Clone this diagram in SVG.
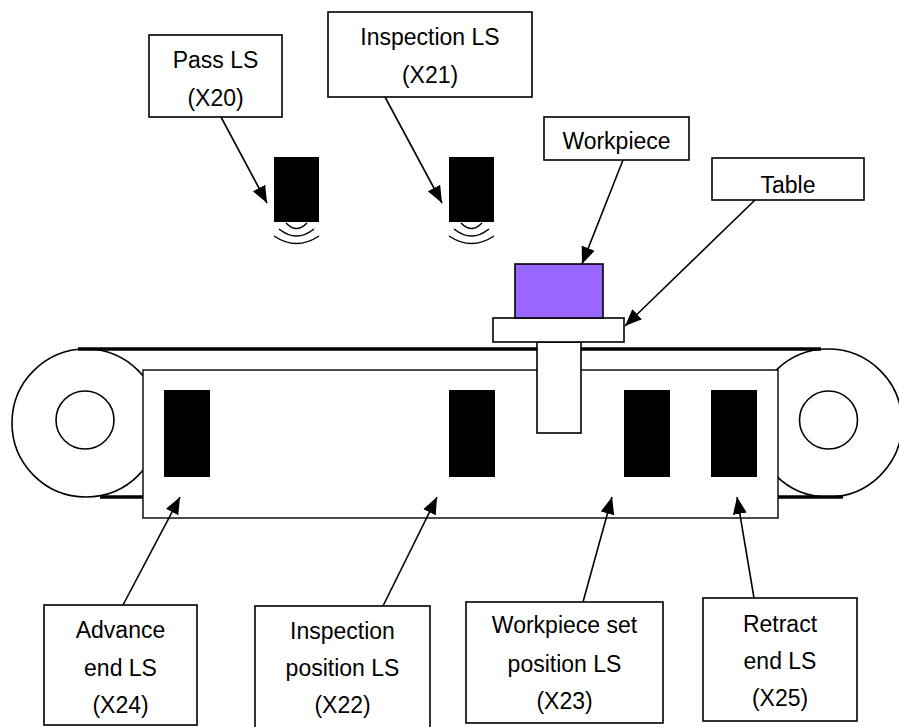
<svg xmlns="http://www.w3.org/2000/svg" width="899" height="727" viewBox="0 0 899 727">
  <style>
    .box { fill: #fff; stroke: #000; stroke-width: 1.6; }
    .lbl { font-family: "Liberation Sans", Arial, sans-serif; font-size: 23px; fill: #000; text-anchor: middle; }
    .blk { fill: #000; }
    .wave { fill: none; stroke: #000; stroke-width: 1.5; }
    .wheel { fill: #fff; stroke: #000; stroke-width: 1.6; }
    .belt { stroke: #000; stroke-width: 3.5; }
    .link { stroke: #000; stroke-width: 1.6; fill: none; marker-end: url(#head); }
  </style>
  <defs>
    <marker id="head" markerUnits="userSpaceOnUse" markerWidth="18" markerHeight="14" refX="17" refY="7" orient="auto">
      <path d="M0,0 L17,7 L0,14 z" fill="#000"/>
    </marker>
  </defs>

  <rect width="899" height="727" fill="#fff"/>

  <!-- conveyor: wheels, belt, body -->
  <g id="conveyor">
    <circle class="wheel" cx="86" cy="423" r="74"/>
    <circle class="wheel" cx="85" cy="420" r="29"/>
    <circle class="wheel" cx="828" cy="423" r="74"/>
    <circle class="wheel" cx="828.5" cy="420" r="29"/>
    <line class="belt" x1="78" y1="349" x2="821" y2="349"/>
    <line class="belt" x1="100" y1="497" x2="143" y2="497"/>
    <line class="belt" x1="778" y1="497" x2="843" y2="497"/>
    <rect x="143" y="370" width="635" height="148" fill="#fff" stroke="#000" stroke-width="1.4"/>
  </g>

  <!-- position switches on the conveyor body -->
  <g id="ls-x24"><rect class="blk" x="164" y="390" width="46" height="87"/></g>
  <g id="ls-x22"><rect class="blk" x="449" y="390" width="46" height="87"/></g>
  <g id="ls-x23"><rect class="blk" x="624" y="390" width="46" height="87"/></g>
  <g id="ls-x25"><rect class="blk" x="711" y="390" width="46" height="87"/></g>

  <!-- table with workpiece -->
  <g id="table">
    <rect class="box" x="537" y="342" width="44" height="91"/>
    <rect class="box" x="493" y="318" width="131" height="24"/>
  </g>
  <g id="workpiece">
    <rect x="515" y="264" width="88" height="54" fill="#9966ff" stroke="#000" stroke-width="1.6"/>
  </g>

  <!-- overhead sensors -->
  <g id="sensor-x20">
    <rect class="blk" x="274" y="157" width="45" height="65"/>
    <path class="wave" d="M286,223 Q296.5,234 307,223"/>
    <path class="wave" d="M279,229 Q296.5,243 314,229"/>
    <path class="wave" d="M274,236 Q296.5,251 319,236"/>
  </g>
  <g id="sensor-x21">
    <rect class="blk" x="449" y="157" width="45" height="65"/>
    <path class="wave" d="M461,223 Q471.5,234 482,223"/>
    <path class="wave" d="M454,229 Q471.5,243 489,229"/>
    <path class="wave" d="M449,236 Q471.5,251 494,236"/>
  </g>

  <!-- callout boxes -->
  <g id="label-pass">
    <rect class="box" x="149" y="35" width="133" height="82"/>
    <text class="lbl" x="215.5" y="68">Pass LS</text>
    <text class="lbl" x="215.5" y="106">(X20)</text>
  </g>
  <g id="label-inspection">
    <rect class="box" x="328" y="12" width="204" height="85"/>
    <text class="lbl" x="430" y="45">Inspection LS</text>
    <text class="lbl" x="430" y="83">(X21)</text>
  </g>
  <g id="label-workpiece">
    <rect class="box" x="544" y="117" width="145" height="43"/>
    <text class="lbl" x="616.5" y="149">Workpiece</text>
  </g>
  <g id="label-table">
    <rect class="box" x="712" y="158" width="152" height="42"/>
    <text class="lbl" x="788" y="193">Table</text>
  </g>
  <g id="label-advance">
    <rect class="box" x="44" y="605" width="153" height="120"/>
    <text class="lbl" x="120.5" y="638">Advance</text>
    <text class="lbl" x="120.5" y="676">end LS</text>
    <text class="lbl" x="120.5" y="713">(X24)</text>
  </g>
  <g id="label-inspection-pos">
    <rect class="box" x="255" y="606" width="175" height="125"/>
    <text class="lbl" x="342.5" y="639">Inspection</text>
    <text class="lbl" x="342.5" y="676">position LS</text>
    <text class="lbl" x="342.5" y="713">(X22)</text>
  </g>
  <g id="label-set-pos">
    <rect class="box" x="466" y="602" width="197" height="121"/>
    <text class="lbl" x="564.5" y="633">Workpiece set</text>
    <text class="lbl" x="564.5" y="672">position LS</text>
    <text class="lbl" x="564.5" y="709">(X23)</text>
  </g>
  <g id="label-retract">
    <rect class="box" x="703" y="598" width="154" height="123"/>
    <text class="lbl" x="780" y="632">Retract</text>
    <text class="lbl" x="780" y="669">end LS</text>
    <text class="lbl" x="780" y="706">(X25)</text>
  </g>

  <!-- leader arrows -->
  <g id="connectors">
    <line class="link" x1="221" y1="117" x2="267" y2="203"/>
    <line class="link" x1="385" y1="97" x2="442" y2="203"/>
    <line class="link" x1="623" y1="160" x2="582" y2="264"/>
    <line class="link" x1="755" y1="200" x2="625" y2="326"/>
    <line class="link" x1="123" y1="605" x2="180" y2="497"/>
    <line class="link" x1="383" y1="606" x2="437" y2="497"/>
    <line class="link" x1="583" y1="602" x2="612" y2="497"/>
    <line class="link" x1="754" y1="598" x2="737" y2="497"/>
  </g>
</svg>
